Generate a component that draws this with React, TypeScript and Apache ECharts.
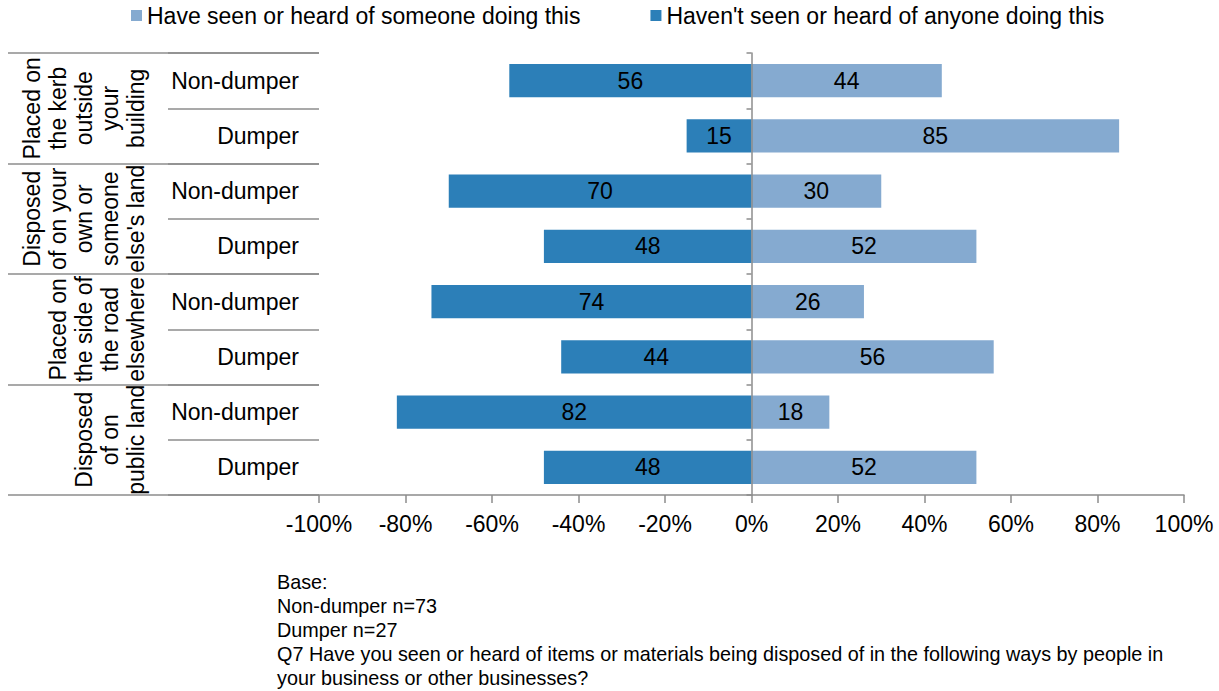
import React, { useEffect, useRef } from "react";
import * as echarts from "echarts";

const rowLabels = ["Non-dumper", "Dumper", "Non-dumper", "Dumper", "Non-dumper", "Dumper", "Non-dumper", "Dumper"];
const groupLabels = [
  "Placed on\nthe kerb\noutside\nyour\nbuilding",
  "Disposed\nof on your\nown or\nsomeone\nelse's land",
  "Placed on\nthe side of\nthe road\nelsewhere",
  "Disposed\nof on\npublic land",
];
const haveSeen = [44, 85, 30, 52, 26, 56, 18, 52];
const haventSeen = [56, 15, 70, 48, 74, 44, 82, 48];
const xTicks = { min: -100, max: 100, interval: 20 };
const seriesNames = ["Have seen or heard of someone doing this", "Haven't seen or heard of anyone doing this"];
const footnoteLines = [
  "Base:",
  "Non-dumper n=73",
  "Dumper n=27",
  "Q7 Have you seen or heard of items or materials being disposed of in the following ways by people in",
  "your business or other businesses?",
];

const FONT = "'Liberation Sans', Arial, sans-serif";
const LIGHT = "#85AAD0";
const DARK = "#2C7FB8";
const GRAY = "#8C8C8C";
const FS = 23;

export default function App() {
  const ref = useRef<HTMLDivElement>(null);
  useEffect(() => {
    document.body.style.margin = "0";
    const chart = echarts.init(ref.current!, null, { renderer: "svg" });
    const option: any = {
      animation: false,
      textStyle: { fontFamily: FONT },
      legend: {
        top: 4,
        left: 131,
        padding: 0,
        itemWidth: 11,
        itemHeight: 11,
        itemGap: 70,
        icon: "rect",
        textStyle: { fontSize: FS, color: "#000", fontFamily: FONT },
        data: [seriesNames[0], seriesNames[1]],
      },
      grid: { left: 319, right: 35, top: 53, bottom: 196, containLabel: false, outerBoundsMode: "none" },
      xAxis: {
        type: "value",
        min: xTicks.min,
        max: xTicks.max,
        interval: xTicks.interval,
        axisLine: { show: true, onZero: false, lineStyle: { color: GRAY, width: 1.5 } },
        axisTick: { show: true, length: 8, lineStyle: { color: GRAY, width: 1.5 } },
        splitLine: { show: false },
        axisLabel: { formatter: "{value}%", fontSize: FS, color: "#000", margin: 17, fontFamily: FONT },
      },
      yAxis: [
        {
          type: "category",
          data: rowLabels,
          inverse: true,
          position: "left",
          axisLine: { show: false, onZero: false },
          axisTick: { show: true, length: 151, lineStyle: { color: GRAY, width: 1.5 } },
          axisLabel: { fontSize: FS, color: "#000", margin: 20, fontFamily: FONT },
        },
        {
          type: "category",
          data: groupLabels,
          inverse: true,
          position: "left",
          axisLine: { show: false, onZero: false },
          axisTick: { show: true, length: 311, lineStyle: { color: GRAY, width: 1.5 } },
          axisLabel: {
            rotate: 90,
            fontSize: FS,
            lineHeight: 26,
            color: "#000",
            margin: 170,
            align: "center",
            verticalAlign: "bottom",
            fontFamily: FONT,
            interval: 0,
          },
        },
        {
          type: "category",
          data: rowLabels,
          inverse: true,
          position: "left",
          z: 10,
          axisLine: { show: true, onZero: true, lineStyle: { color: GRAY, width: 1.5 } },
          axisTick: { show: true, length: 5, lineStyle: { color: GRAY, width: 1.5 } },
          axisLabel: { show: false },
        },
      ],
      series: [
        {
          name: seriesNames[0],
          type: "bar",
          stack: "total",
          yAxisIndex: 0,
          barWidth: "60%",
          itemStyle: { color: LIGHT },
          label: { show: true, position: "inside", fontSize: FS, color: "#000", fontFamily: FONT },
          data: haveSeen,
        },
        {
          name: seriesNames[1],
          type: "bar",
          stack: "total",
          yAxisIndex: 0,
          barWidth: "60%",
          itemStyle: { color: DARK },
          label: {
            show: true,
            position: "inside",
            fontSize: FS,
            color: "#000",
            fontFamily: FONT,
            formatter: (p: any) => String(Math.abs(p.value)),
          },
          data: haventSeen.map((v) => -v),
        },
      ],
      graphic: [
        {
          type: "text",
          left: 277,
          top: 570,
          style: {
            text: footnoteLines.join("\n"),
            fontSize: 19.8,
            lineHeight: 24,
            fill: "#000",
            fontFamily: FONT,
          },
        },
      ],
    };
    chart.setOption(option);
    return () => chart.dispose();
  }, []);
  return <div ref={ref} style={{ width: 1219, height: 691 }} />;
}
